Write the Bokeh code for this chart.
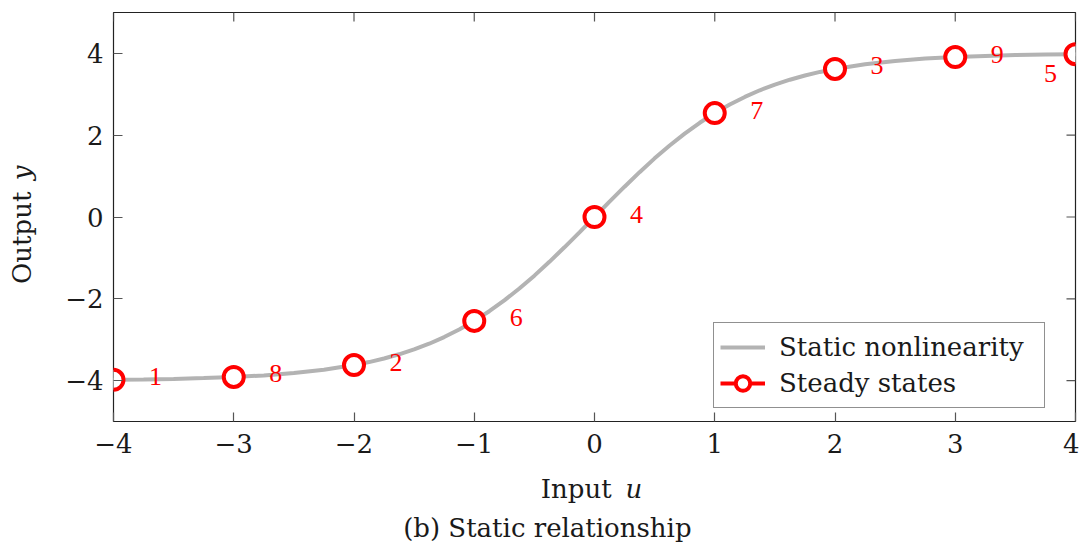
import math
from bokeh.plotting import figure
from bokeh.models import (ColumnDataSource, LabelSet, Label, Legend, LegendItem,
                          LinearAxis, FixedTicker, Range1d)
from bokeh.embed import file_html
from bokeh.resources import INLINE

# ---------------- data ----------------
curve_u = [-4, -3.75, -3.5, -3.25, -3, -2.75, -2.5, -2.25, -2, -1.875, -1.75, -1.625,
           -1.5, -1.375, -1.25, -1.125, -1, -0.875, -0.75, -0.625, -0.5, -0.375, -0.25,
           -0.125, 0, 0.125, 0.25, 0.375, 0.5, 0.625, 0.75, 0.875, 1, 1.125, 1.25, 1.375,
           1.5, 1.625, 1.75, 1.875, 2, 2.25, 2.5, 2.75, 3, 3.25, 3.5, 3.75, 4]
curve_y = [-3.980, -3.971, -3.958, -3.939, -3.912, -3.873, -3.816, -3.735, -3.620, -3.547,
           -3.459, -3.357, -3.237, -3.098, -2.936, -2.752, -2.540, -2.304, -2.039, -1.748,
           -1.434, -1.096, -0.741, -0.374, 0.0, 0.374, 0.741, 1.096, 1.434, 1.748, 2.039,
           2.304, 2.540, 2.752, 2.936, 3.098, 3.237, 3.357, 3.459, 3.547, 3.620, 3.735,
           3.816, 3.873, 3.912, 3.939, 3.958, 3.971, 3.980]

state_u = [-4, -3, -2, -1, 0, 1, 2, 3, 4]
state_y = [-3.98, -3.91, -3.62, -2.54, 0.0, 2.54, 3.62, 3.91, 3.98]
state_order = ["1", "8", "2", "6", "4", "7", "3", "9", "5"]

x_ticks = [-4, -3, -2, -1, 0, 1, 2, 3, 4]
x_tick_labels = ["\u22124", "\u22123", "\u22122", "\u22121", "0", "1", "2", "3", "4"]
y_ticks = [-4, -2, 0, 2, 4]
y_tick_labels = ["\u22124", "\u22122", "0", "2", "4"]

legend_labels = ["Static nonlinearity", "Steady states"]
x_label = ["Input", "u"]
y_label = ["Output", "y"]
caption = "(b) Static relationship"

# ---------------- style ----------------
FONT = "DejaVu Serif"
FS = "26px"
RED = "#ff0000"
GRAY = "#b3b3b3"
INK = "#1a1a1a"

XMIN, XMAX, YMIN, YMAX = -4, 4, -5, 5
p = figure(width=1079, height=547, output_backend="svg", toolbar_location=None,
           x_range=Range1d(XMIN, XMAX), y_range=Range1d(YMIN, YMAX),
           min_border_left=113, min_border_right=4, min_border_top=12, min_border_bottom=126,
           x_axis_type=None, y_axis_type=None)
p.outline_line_color = "#222222"
p.outline_line_width = 1.2
p.background_fill_color = "white"
p.border_fill_color = "white"

def style_axis(ax, ticks, labels):
    ax.ticker = FixedTicker(ticks=ticks)
    ax.major_label_overrides = {float(t): l for t, l in zip(ticks, labels)}
    ax.axis_line_color = None
    ax.major_tick_in = 9
    ax.major_tick_out = 0
    ax.major_tick_line_color = "#555555"
    ax.major_tick_line_width = 1.2
    ax.minor_tick_line_color = None
    ax.major_label_text_font = FONT
    ax.major_label_text_font_size = FS
    ax.major_label_text_color = INK
    ax.major_label_standoff = 10

bx = LinearAxis(); style_axis(bx, x_ticks, x_tick_labels); p.add_layout(bx, "below")
ly = LinearAxis(); style_axis(ly, y_ticks, y_tick_labels); p.add_layout(ly, "left")
bx.major_label_standoff = 12

p.xgrid.ticker = FixedTicker(ticks=x_ticks)
p.ygrid.ticker = FixedTicker(ticks=y_ticks)
p.grid.grid_line_color = "#d4d4d4"
p.grid.grid_line_width = 1

# mirrored inward ticks on top and right edges
tick_dy = 9 / 40.75
tick_dx = 9 / 120.0
p.segment(x0=x_ticks, y0=[YMAX] * len(x_ticks), x1=x_ticks,
          y1=[YMAX - tick_dy] * len(x_ticks), line_color="#555555", line_width=1.2)
p.segment(x0=[XMAX] * len(y_ticks), y0=y_ticks, x1=[XMAX - tick_dx] * len(y_ticks),
          y1=y_ticks, line_color="#555555", line_width=1.2)

curve_src = ColumnDataSource(dict(u=curve_u, y=curve_y))
curve_r = p.line("u", "y", source=curve_src, line_color=GRAY, line_width=4)

offx = [42] * (len(state_u) - 1) + [-25]
offy = [3] * (len(state_u) - 1) + [-19]
st_src = ColumnDataSource(dict(u=state_u, y=state_y, t=state_order, ox=offx, oy=offy))
dummy = p.line(x=[-10, -9], y=[-10, -10], line_color=RED, line_width=4)
pts = p.scatter("u", "y", source=st_src, marker="circle", size=20,
                fill_color="white", line_color=RED, line_width=4)
lbls = LabelSet(x="u", y="y", text="t", source=st_src, x_offset="ox", y_offset="oy",
                text_align="center", text_baseline="middle", text_font=FONT,
                text_font_size=FS, text_color=RED)
p.add_layout(lbls)

legend = Legend(items=[LegendItem(label=legend_labels[0], renderers=[curve_r]),
                       LegendItem(label=legend_labels[1], renderers=[dummy, pts])],
                location=(600, 13), orientation="vertical")
legend.label_text_font = FONT
legend.label_text_font_size = FS
legend.label_text_color = INK
legend.glyph_width = 45
legend.glyph_height = 36
legend.label_height = 36
legend.label_width = 259
legend.label_standoff = 14
legend.spacing = 0
legend.padding = 6
legend.margin = 0
legend.border_line_color = "#222222"
legend.border_line_width = 1.2
legend.background_fill_alpha = 1.0
p.add_layout(legend)

# axis labels (normal + italic parts) and caption, placed in data units in side panels
def lab(x, y, text, align, place, italic=False, angle=0.0):
    p.add_layout(Label(x=x, y=y, text=text, angle=angle, text_align=align,
                       text_baseline="middle", text_font=FONT,
                       text_font_style="italic" if italic else "normal",
                       text_font_size=FS, text_color=INK), place)

lab(0.142, -6.644, x_label[0], "right", "below")
lab(0.258, -6.644, x_label[1], "left", "below", italic=True)
lab(-4.758, 0.62, y_label[0], "right", "left", angle=math.pi / 2)
lab(-4.758, 0.90, y_label[1], "left", "left", italic=True, angle=math.pi / 2)
lab(-0.392, -7.601, caption, "center", "below")

open("out.html", "w").write(file_html(p, INLINE))
